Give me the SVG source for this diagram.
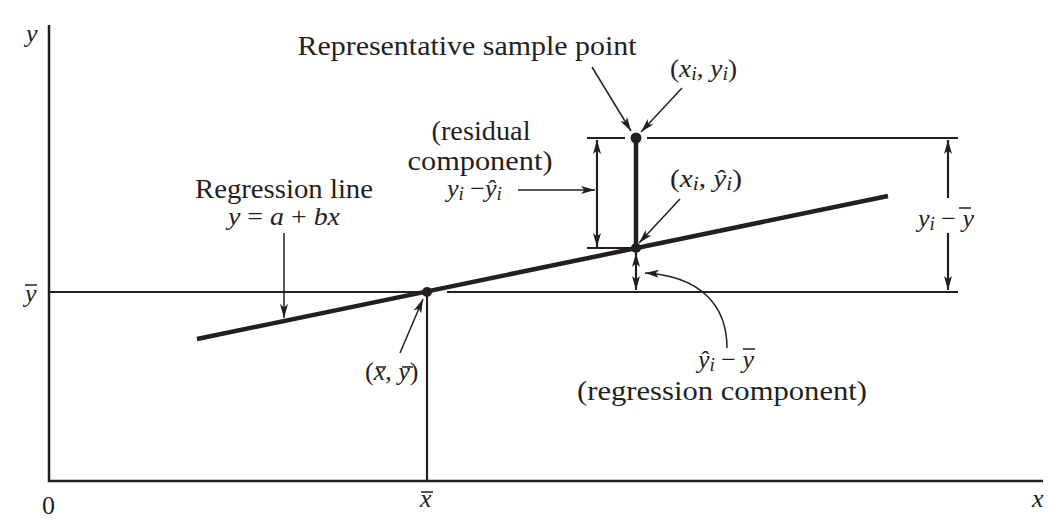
<svg xmlns="http://www.w3.org/2000/svg" width="1056" height="527" viewBox="0 0 1056 527">
<style>
text{font-family:"Liberation Serif","Times New Roman",serif;font-size:26px;fill:#231f20}
.lbl{font-size:27px}
.it{font-style:italic}
.sub{font-style:italic;font-size:19px}
.ax{stroke:#231f20;stroke-width:2.5;fill:none}
.ref{stroke:#231f20;stroke-width:2.2;fill:none}
.thin{stroke:#231f20;stroke-width:1.5;fill:none}
.bar{stroke:#231f20;stroke-width:1.5}
</style>
<defs>
<marker id="ah" viewBox="0 0 14 8" refX="14" refY="4" markerWidth="14" markerHeight="8" orient="auto-start-reverse" markerUnits="userSpaceOnUse"><path d="M0,0 L14,4 L0,8 L3.5,4 Z" fill="#231f20"/></marker>
</defs>
<rect width="1056" height="527" fill="#fff"/>
<g id="axes">
<path class="ax" d="M49,25 V481 H1043"/>
<text class="it" x="26" y="42">y</text>
<text x="42" y="514">0</text>
<text class="it" x="1032" y="507">x</text>
<text class="it" x="420" y="507">x</text>
<line class="bar" x1="421" y1="492" x2="433" y2="492"/>
<text class="it" x="25" y="302">y</text>
<line class="bar" x1="25" y1="285" x2="37" y2="285"/>
</g>
<g id="reference-lines">
<path class="ref" d="M49,292 H426 M447,292 H958"/>
<path class="ref" d="M427,292 V481"/>
<path class="ref" d="M587,138 H625 M647,138 H958"/>
<path class="ref" d="M587,248 H636"/>
</g>
<g id="regression-line">
<line x1="197" y1="339" x2="888" y2="196" stroke="#231f20" stroke-width="4.5"/>
<line x1="636" y1="138" x2="636" y2="248" stroke="#231f20" stroke-width="4.5"/>
</g>
<g id="points">
<circle id="mean-point" cx="427" cy="292" r="5" fill="#231f20"/>
<circle id="sample-point" cx="636" cy="138" r="5.5" fill="#231f20"/>
<circle id="fitted-point" cx="636" cy="248" r="5" fill="#231f20"/>
</g>
<g id="connectors">
<line class="thin" x1="592" y1="67" x2="631" y2="131" marker-end="url(#ah)"/>
<line class="thin" x1="682" y1="88" x2="641" y2="132" marker-end="url(#ah)"/>
<line class="thin" x1="680" y1="199" x2="639" y2="243" marker-end="url(#ah)"/>
<line class="thin" x1="518" y1="190" x2="595" y2="190" marker-end="url(#ah)"/>
<line class="ref" x1="597" y1="140" x2="597" y2="247" marker-start="url(#ah)" marker-end="url(#ah)"/>
<line class="ref" x1="948" y1="198" x2="948" y2="140" marker-end="url(#ah)"/>
<line class="ref" x1="948" y1="233" x2="948" y2="290" marker-end="url(#ah)"/>
<line class="ref" x1="636" y1="253" x2="636" y2="290" marker-start="url(#ah)" marker-end="url(#ah)"/>
<path class="thin" d="M727,348 C727,305 700,276 645,273" marker-end="url(#ah)"/>
<line class="thin" x1="284" y1="233" x2="284" y2="318" marker-end="url(#ah)"/>
<line class="thin" x1="400" y1="353" x2="423" y2="299" marker-end="url(#ah)"/>
</g>
<g id="label-sample">
<text class="lbl" x="467" y="55" text-anchor="middle" textLength="339" lengthAdjust="spacingAndGlyphs">Representative sample point</text>
<text x="670" y="77" textLength="67" lengthAdjust="spacingAndGlyphs">(<tspan class="it">x</tspan><tspan class="sub" dy="3">i</tspan><tspan dy="-3">, </tspan><tspan class="it">y</tspan><tspan class="sub" dy="3">i</tspan><tspan dy="-3">)</tspan></text>
</g>
<g id="label-fitted">
<text x="670" y="187" textLength="72" lengthAdjust="spacingAndGlyphs">(<tspan class="it">x</tspan><tspan class="sub" dy="3">i</tspan><tspan dy="-3">, </tspan><tspan class="it">ŷ</tspan><tspan class="sub" dy="3">i</tspan><tspan dy="-3">)</tspan></text>
</g>
<g id="label-residual">
<text class="lbl" x="481" y="140" text-anchor="middle" textLength="99" lengthAdjust="spacingAndGlyphs">(residual</text>
<text class="lbl" x="480" y="170" text-anchor="middle" textLength="145" lengthAdjust="spacingAndGlyphs">component)</text>
<text x="447" y="197"><tspan class="it">y</tspan><tspan class="sub" dy="3">i</tspan><tspan dy="-3"> −</tspan><tspan class="it">ŷ</tspan><tspan class="sub" dy="3">i</tspan></text>
</g>
<g id="label-total">
<text x="918" y="227"><tspan class="it">y</tspan><tspan class="sub" dy="3">i</tspan><tspan dy="-3"> − </tspan><tspan class="it">y</tspan></text>
<line class="bar" x1="959" y1="208" x2="971" y2="208"/>
</g>
<g id="label-regression-line">
<text class="lbl" x="284" y="198" text-anchor="middle" textLength="178" lengthAdjust="spacingAndGlyphs">Regression line</text>
<text x="284" y="225" text-anchor="middle" textLength="112" lengthAdjust="spacingAndGlyphs"><tspan class="it">y</tspan> = <tspan class="it">a</tspan> + <tspan class="it">bx</tspan></text>
</g>
<g id="label-mean">
<text x="365" y="380">(<tspan class="it">x</tspan>, <tspan class="it">y</tspan>)</text>
<line class="bar" x1="376" y1="367" x2="386" y2="367"/>
<line class="bar" x1="402" y1="367" x2="413" y2="367"/>
</g>
<g id="label-regression-component">
<text x="698" y="368"><tspan class="it">ŷ</tspan><tspan class="sub" dy="3">i</tspan><tspan dy="-3"> − </tspan><tspan class="it">y</tspan></text>
<line class="bar" x1="743" y1="349" x2="755" y2="349"/>
<text class="lbl" x="722" y="400" text-anchor="middle" textLength="290" lengthAdjust="spacingAndGlyphs">(regression component)</text>
</g>
</svg>
